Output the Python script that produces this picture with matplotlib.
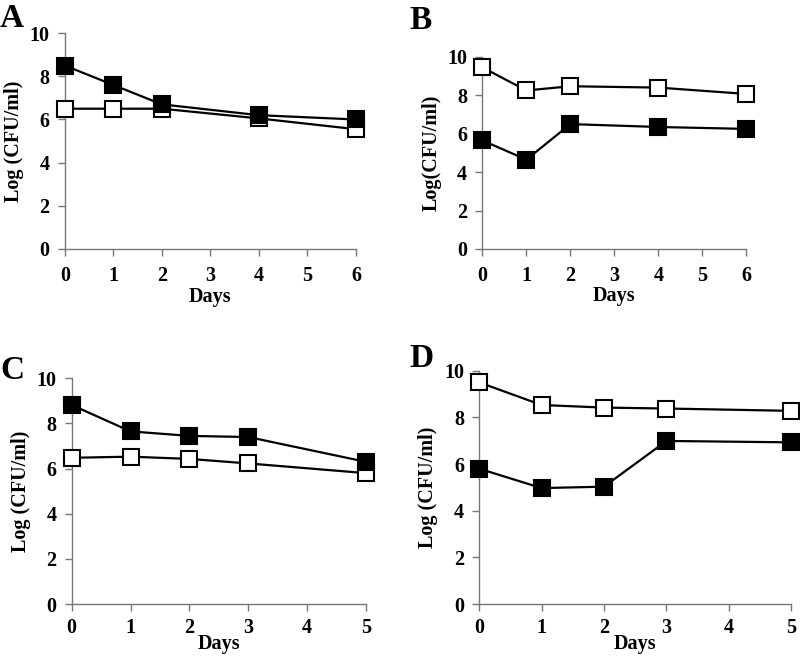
import matplotlib
matplotlib.use("Agg")
import matplotlib.pyplot as plt

plt.rcParams['font.family'] = ['Liberation Serif', 'DejaVu Serif']
plt.rcParams['font.weight'] = 'bold'

# panel A
days_a = [0, 1, 2, 4, 6]
filled_a = [8.5, 7.6, 6.7, 6.2, 6.0]
open_a = [6.5, 6.5, 6.5, 6.05, 5.55]

# panel B
days_b = [0, 1, 2, 4, 6]
filled_b = [5.65, 4.65, 6.5, 6.35, 6.25]
open_b = [9.45, 8.25, 8.47, 8.4, 8.07]

# panel C
days_c = [0, 1, 2, 3, 5]
filled_c = [8.82, 7.65, 7.45, 7.4, 6.3]
open_c = [6.48, 6.53, 6.43, 6.23, 5.8]

# panel D
days_d = [0, 1, 2, 3, 5]
filled_d = [5.8, 4.97, 5.03, 6.99, 6.93]
open_d = [9.5, 8.53, 8.42, 8.38, 8.28]

panels = [
    ('A', days_a, filled_a, open_a, 6, 'Log (CFU/ml)', [0.081, 0.6216, 0.364, 0.328], (0.0, 0.996), 7, 1),
    ('B', days_b, filled_b, open_b, 6, 'Log(CFU/ml)', [0.603, 0.6216, 0.33, 0.292], (0.512, 0.993), 7, 0),
    ('C', days_c, filled_c, open_c, 5, 'Log (CFU/ml)', [0.0896, 0.082, 0.368, 0.343], (0.0, 0.461), 5, -3),
    ('D', days_d, filled_d, open_d, 5, 'Log (CFU/ml)', [0.599, 0.082, 0.39, 0.3546], (0.512, 0.479), 5, -3),
]

fig = plt.figure(figsize=(8, 6.58), dpi=100)

for letter, days, filled, opn, xmax, ylab, pos, lpos, xpad, xlpad in panels:
    ax = fig.add_axes(pos)
    ax.plot(days, opn, color='black', lw=1.6, marker='s', ms=11.5,
            mfc='white', mec='black', mew=1.5, clip_on=False, zorder=3)
    ax.plot(days, filled, color='black', lw=1.6, marker='s', ms=11.5,
            mfc='black', mec='black', mew=1.5, clip_on=False, zorder=4)
    ax.set_xlim(0, xmax)
    ax.set_ylim(0, 10)
    ax.set_xticks(range(xmax + 1))
    ax.set_yticks(range(0, 11, 2))
    ax.spines['top'].set_visible(False)
    ax.spines['right'].set_visible(False)
    for s in ['left', 'bottom']:
        ax.spines[s].set_color('#777777')
        ax.spines[s].set_linewidth(1.0)
    ax.tick_params(direction='out', length=5, width=1.0, color='#777777',
                   labelsize=14.5)
    ax.tick_params(axis='x', pad=xpad)
    ax.tick_params(axis='y', pad=6)
    for lab in ax.get_xticklabels() + ax.get_yticklabels():
        lab.set_fontweight('bold')
    ax.set_xlabel('Days', fontsize=14.5, fontweight='bold', labelpad=xlpad)
    ax.set_ylabel(ylab, fontsize=14.5, fontweight='bold', labelpad=4)
    fig.text(lpos[0], lpos[1], letter, fontsize=24, fontweight='bold',
             ha='left', va='top')

fig.savefig('out.png', dpi=100)
